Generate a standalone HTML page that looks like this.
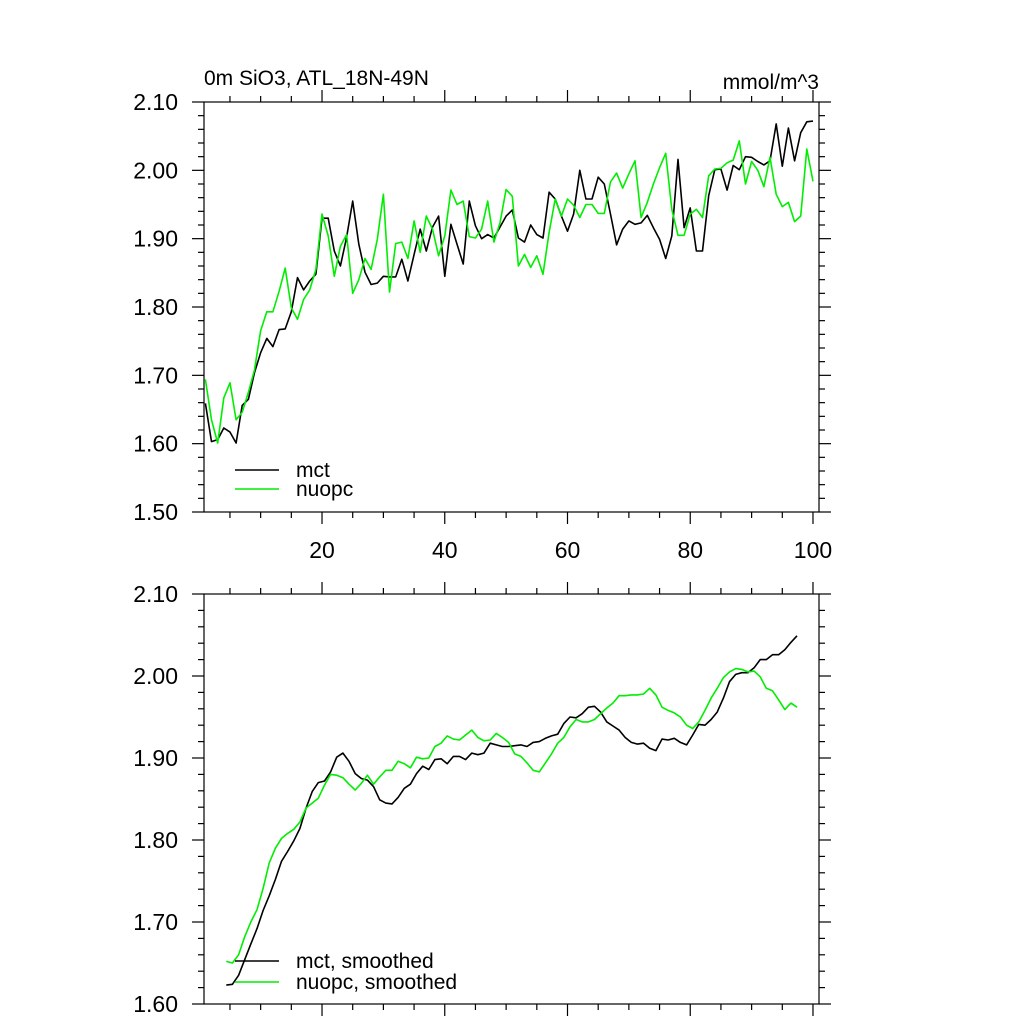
<!DOCTYPE html>
<html><head><meta charset="utf-8"><style>
html,body{margin:0;padding:0;background:#fff;}
svg{display:block;font-family:"Liberation Sans",Arial,sans-serif;}
</style></head><body>
<svg id="chart" width="1024" height="1024" viewBox="0 0 1024 1024">
<text x="204" y="85" font-size="21">0m SiO3, ATL_18N-49N</text>
<text x="819" y="89" font-size="21" text-anchor="end">mmol/m^3</text>
</svg>
<script>
const xStart = 1;
const mctRaw = [1.659,1.603,1.606,1.623,1.617,1.601,1.656,1.665,1.704,1.733,1.754,1.742,1.767,1.768,1.793,1.843,1.825,1.838,1.848,1.930,1.930,1.882,1.860,1.902,1.955,1.892,1.851,1.833,1.835,1.845,1.844,1.844,1.870,1.838,1.877,1.914,1.882,1.917,1.933,1.845,1.921,1.892,1.863,1.955,1.919,1.900,1.906,1.901,1.917,1.933,1.942,1.901,1.895,1.920,1.906,1.901,1.968,1.958,1.933,1.911,1.936,2.000,1.958,1.958,1.990,1.980,1.936,1.891,1.914,1.926,1.921,1.923,1.934,1.916,1.899,1.871,1.904,2.016,1.916,1.945,1.882,1.882,1.963,2.001,2.002,1.971,2.007,2.001,2.020,2.019,2.013,2.008,2.014,2.068,2.006,2.062,2.014,2.055,2.071,2.072];
const nuopcRaw = [1.694,1.635,1.601,1.667,1.689,1.635,1.646,1.675,1.708,1.765,1.793,1.793,1.823,1.857,1.799,1.782,1.811,1.825,1.855,1.936,1.904,1.845,1.889,1.906,1.820,1.840,1.871,1.855,1.899,1.965,1.822,1.893,1.895,1.871,1.926,1.880,1.933,1.914,1.875,1.904,1.971,1.950,1.955,1.903,1.901,1.914,1.955,1.895,1.923,1.972,1.962,1.860,1.877,1.858,1.875,1.848,1.909,1.958,1.933,1.958,1.949,1.931,1.950,1.950,1.937,1.937,1.983,1.996,1.974,1.995,2.014,1.931,1.953,1.980,2.004,2.025,1.943,1.905,1.905,1.936,1.943,1.931,1.992,2.002,2.003,2.011,2.015,2.043,1.980,2.013,2.000,1.976,2.019,1.965,1.947,1.953,1.925,1.933,2.031,1.984];
const smoothStart = 4.4;
const mctSmooth = [1.623,1.624,1.635,1.654,1.673,1.692,1.714,1.732,1.752,1.774,1.786,1.799,1.814,1.839,1.859,1.870,1.872,1.883,1.901,1.906,1.896,1.881,1.875,1.873,1.865,1.849,1.845,1.844,1.852,1.863,1.868,1.881,
1.890,1.886,1.898,1.899,1.893,1.902,1.902,1.898,1.906,1.904,1.906,1.918,1.916,1.914,1.914,1.915,1.916,1.914,1.919,1.920,1.924,1.927,1.929,1.942,1.950,1.949,1.954,1.962,1.963,1.956,1.944,1.939,1.934,1.925,
1.919,1.917,1.918,1.912,1.909,1.923,1.922,1.924,1.919,1.916,1.928,1.941,1.940,1.947,1.956,1.973,1.993,2.002,2.004,2.004,2.010,2.020,2.020,2.026,2.026,2.032,2.041,2.049];
const nuopcSmooth = [1.652,1.650,1.660,1.682,1.700,1.715,1.741,1.772,1.790,1.802,1.808,1.813,1.822,1.839,1.845,1.851,1.867,1.880,1.879,1.876,1.868,1.861,1.869,1.879,1.868,1.877,1.885,1.885,1.896,1.893,1.888,1.901,
1.899,1.900,1.914,1.918,1.927,1.923,1.922,1.928,1.934,1.925,1.921,1.922,1.930,1.925,1.919,1.905,1.902,1.894,1.885,1.883,1.894,1.905,1.918,1.925,1.938,1.947,1.944,1.944,1.947,1.954,1.961,1.967,1.976,1.976,
1.977,1.977,1.978,1.985,1.977,1.962,1.958,1.955,1.950,1.940,1.936,1.944,1.958,1.973,1.985,1.998,2.005,2.009,2.008,2.005,2.006,1.999,1.985,1.982,1.971,1.959,1.967,1.962];
const yTicksTop = ["1.50","1.60","1.70","1.80","1.90","2.00","2.10"];
const yTicksBottom = ["1.60","1.70","1.80","1.90","2.00","2.10"];
const xTickLabels = ["20","40","60","80","100"];

const NS="http://www.w3.org/2000/svg";
const svg=document.getElementById('chart');
function mk(tag,attrs,parent){const e=document.createElementNS(NS,tag);for(const k in attrs)e.setAttribute(k,attrs[k]);(parent||svg).appendChild(e);return e;}
const X0=204,X1=819,XMIN=0.77,XMAX=100.98;
function xs(v){return X0+(v-XMIN)/(XMAX-XMIN)*(X1-X0);}

function panel(name,pTop,pBottom,ymin,ymax,yLabels,showX){
  const g=mk('g',{});
  
  
  const ys=v=>pBottom-(v-ymin)/(ymax-ymin)*(pBottom-pTop);
  const ax=mk('g',{stroke:'#000','stroke-width':'1.2',fill:'none'},g);
  
  
  mk('rect',{x:X0,y:pTop,width:X1-X0,height:pBottom-pTop},ax);
  for(let t=5;t<=100;t+=5){const x=xs(t);const L=t%20===0?12:6;
    mk('line',{x1:x,x2:x,y1:pBottom,y2:pBottom+L},ax);mk('line',{x1:x,x2:x,y1:pTop,y2:pTop-L},ax);}
  const nSteps=Math.round((ymax-ymin)/0.02);
  for(let i=0;i<=nSteps;i++){const v=ymin+i*0.02;const y=ys(v);const major=i%5===0;const L=major?12:6;
    mk('line',{x1:X0,x2:X0-L,y1:y,y2:y},ax);mk('line',{x1:X1,x2:X1+L,y1:y,y2:y},ax);}
  yLabels.forEach(s=>{const t=mk('text',{x:178,y:ys(parseFloat(s))+8,'font-size':'23','text-anchor':'end'},g);t.textContent=s;
    
    });
  if(showX){xTickLabels.forEach(s=>{const t=mk('text',{x:xs(parseFloat(s)),y:pBottom+46,'font-size':'23','text-anchor':'middle'},g);t.textContent=s;
    
    });}
  return {g,ys};
}
function series(p,name,arr,x0,color){
  const pts=arr.map((v,i)=>xs(x0+i).toFixed(1)+','+p.ys(v).toFixed(1)).join(' ');
  const pl=mk('polyline',{points:pts,fill:'none',stroke:color,'stroke-width':'1.6','stroke-linejoin':'round'},p.g);
  
  
}
function legend(p,name,y,label,color){
  const g=mk('g',{},p.g);
  
  
  mk('line',{x1:235,x2:279,y1:y,y2:y,stroke:color,'stroke-width':'1.6'},g);
  const t=mk('text',{x:296,y:y+7,'font-size':'21'},g);t.textContent=label;
}
const GREEN='#00ee00';
const topPanel=panel('top-panel',102,512,1.5,2.1,yTicksTop,true);
series(topPanel,'mct-line',mctRaw,xStart,'#000');
series(topPanel,'nuopc-line',nuopcRaw,xStart,GREEN);
legend(topPanel,'legend-entry-mct',470,'mct','#000');
legend(topPanel,'legend-entry-nuopc',489,'nuopc',GREEN);
const bottomPanel=panel('bottom-panel',594,1004,1.6,2.1,yTicksBottom,false);
series(bottomPanel,'mct-smoothed-line',mctSmooth,smoothStart,'#000');
series(bottomPanel,'nuopc-smoothed-line',nuopcSmooth,smoothStart,GREEN);
legend(bottomPanel,'legend-entry-mct-smoothed',961,'mct, smoothed','#000');
legend(bottomPanel,'legend-entry-nuopc-smoothed',982,'nuopc, smoothed',GREEN);
</script>
</body></html>
